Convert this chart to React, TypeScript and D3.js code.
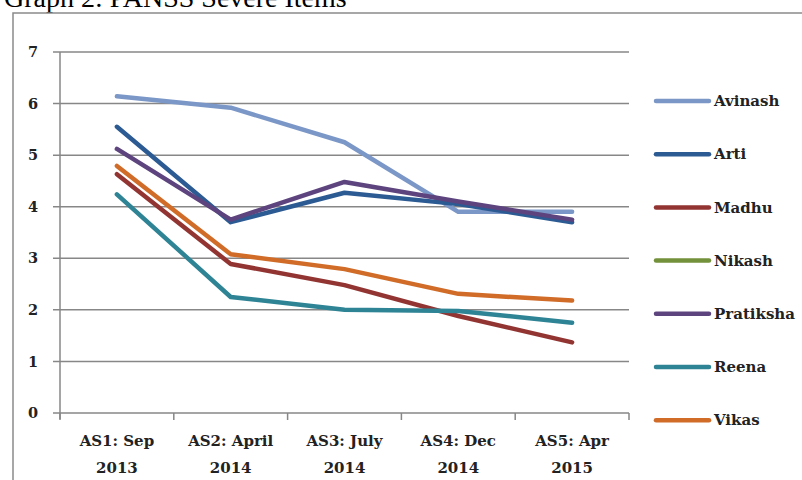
import React from "react";
import * as d3 from "d3";

const catLine1 = ["AS1: Sep", "AS2: April", "AS3: July", "AS4: Dec", "AS5: Apr"];
const catLine2 = ["2013", "2014", "2014", "2014", "2015"];
const categories = catLine1.map((c, i) => c + " " + catLine2[i]);

const seriesNames = ["Avinash", "Arti", "Madhu", "Nikash", "Pratiksha", "Reena", "Vikas"];
const avinash = [6.14, 5.92, 5.25, 3.9, 3.9];
const arti = [5.55, 3.7, 4.27, 4.05, 3.7];
const madhu = [4.63, 2.89, 2.48, 1.88, 1.37];
const nikash: (number | null)[] = [null, null, null, null, null];
const pratiksha = [5.12, 3.75, 4.48, 4.1, 3.75];
const reena = [4.24, 2.25, 2.0, 1.98, 1.75];
const vikas = [4.79, 3.08, 2.79, 2.31, 2.18];
const seriesValues: (number | null)[][] = [avinash, arti, madhu, nikash, pratiksha, reena, vikas];
const colors = ["#7b97c7", "#2c5a93", "#923532", "#73913b", "#5d447e", "#2e8495", "#d06c28"];
const yTicks = [0, 1, 2, 3, 4, 5, 6, 7];

const W = 802;
const H = 480;
const left = 60;
const right = 629;
const top = 52;
const bottom = 413;

export default function App() {
  const x = d3.scaleBand<string>().domain(categories).range([left, right]);
  const y = d3.scaleLinear().domain([0, 7]).range([bottom, top]);
  const line = d3
    .line<number | null>()
    .defined((d) => d != null)
    .x((_, i) => (x(categories[i]) as number) + x.bandwidth() / 2)
    .y((d) => y(d as number));
  const tickXs = categories.map((c) => x(c) as number).concat([right]);
  const font = "'DejaVu Serif', serif";
  const gridColor = "#878787";

  return (
    <svg
      width={W}
      height={H}
      style={{ position: "absolute", left: 0, top: 0, background: "#fff" }}
    >
      <text x={4} y={7} fontFamily="'Liberation Serif', 'Times New Roman', serif" fontSize={28} fill="#000">
        Graph 2: PANSS Severe Items
      </text>
      <rect x={13} y={13} width={W} height={H} fill="none" stroke="#8a8a8a" strokeWidth={1.5} />
      {yTicks.map((t) => (
        <g key={t}>
          <line x1={left - 7} x2={right} y1={y(t)} y2={y(t)} stroke={gridColor} strokeWidth={1.5} />
          <text
            x={38}
            y={y(t)}
            dy="0.35em"
            textAnchor="end"
            fontFamily={font}
            fontSize={14.5}
            fontWeight="bold"
            fill="#222"
          >
            {t}
          </text>
        </g>
      ))}
      <line x1={left} x2={left} y1={top} y2={bottom + 6} stroke={gridColor} strokeWidth={1.5} />
      {tickXs.map((tx, i) => (
        <line key={i} x1={tx} x2={tx} y1={bottom} y2={bottom + 7} stroke={gridColor} strokeWidth={1.5} />
      ))}
      {categories.map((c, i) => {
        const cx = (x(c) as number) + x.bandwidth() / 2;
        return (
          <text key={c} textAnchor="middle" fontFamily={font} fontSize={15} fontWeight="bold" fill="#222">
            <tspan x={cx} y={446}>{catLine1[i]}</tspan>
            <tspan x={cx} y={473}>{catLine2[i]}</tspan>
          </text>
        );
      })}
      {seriesValues.map((vals, si) => (
        <path
          key={seriesNames[si]}
          d={line(vals) || ""}
          fill="none"
          stroke={colors[si]}
          strokeWidth={4.5}
          strokeLinejoin="round"
          strokeLinecap="round"
        />
      ))}
      {seriesNames.map((n, i) => {
        const ly = 101 + i * 53.2;
        return (
          <g key={n}>
            <line x1={656} x2={709} y1={ly} y2={ly} stroke={colors[i]} strokeWidth={4.5} strokeLinecap="round" />
            <text x={714} y={ly} dy="0.35em" fontFamily={font} fontSize={15} fontWeight="bold" fill="#222">
              {n}
            </text>
          </g>
        );
      })}
    </svg>
  );
}
